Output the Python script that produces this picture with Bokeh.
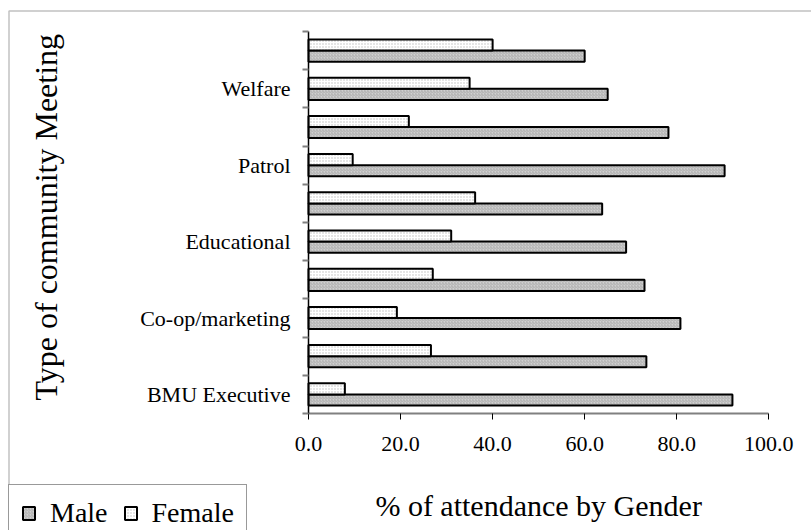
import numpy as np
from bokeh.plotting import figure
from bokeh.models import (FixedTicker, PrintfTickFormatter, Label, Legend,
                          BoxAnnotation, ColumnDataSource, Range1d)
from bokeh.embed import file_html
from bokeh.resources import INLINE

# ---- data (bottom to top) ----
categories = ["BMU Executive", "", "Co-op/marketing", "", "Educational", "",
              "Patrol", "", "Welfare", ""]
male = [92.1, 73.4, 80.8, 73.0, 69.0, 63.8, 90.4, 78.2, 65.0, 60.0]
female = [7.9, 26.6, 19.2, 27.0, 31.0, 36.2, 9.6, 21.8, 35.0, 40.0]
x_ticks = [0, 20, 40, 60, 80, 100]

FONT = "Liberation Serif"
BAR_H = 0.29
W, H = 811, 530
# plot area placement in pixels
X0, X1 = 308, 768.3      # x = 0 and x = 100
Y0, Y1 = 413, 31         # y = 0 and y = 10
PX_X = (X1 - X0) / 100.0
PX_Y = (Y0 - Y1) / len(categories)

pos = np.arange(len(categories)) + 0.5
src = ColumnDataSource(dict(male_y=pos - BAR_H / 2, female_y=pos + BAR_H / 2,
                            male=male, female=female))

x_range = Range1d(-X0 / PX_X, (W - X0) / PX_X)
y_range = Range1d(-(H - Y0) / PX_Y, Y0 / PX_Y)

p = figure(width=W, height=H, min_border=0,
           x_range=x_range, y_range=y_range,
           output_backend="svg", toolbar_location=None)
p.background_fill_color = "white"
p.border_fill_color = "white"
p.outline_line_color = None
p.xgrid.visible = False
p.ygrid.visible = False

r_m = p.hbar(y="male_y", left=0, right="male", height=BAR_H, source=src,
             fill_color="#d0d0d0", hatch_pattern="right_diagonal_line",
             hatch_color="#9a9a9a", hatch_scale=3, hatch_weight=0.6,
             line_color="black", line_width=2)
r_f = p.hbar(y="female_y", left=0, right="female", height=BAR_H, source=src,
             fill_color="white", hatch_pattern="dot",
             hatch_color="#bdbdbd", hatch_scale=3, hatch_weight=1,
             line_color="black", line_width=2)

# x axis
xa = p.xaxis[0]
xa.fixed_location = 0
xa.bounds = (0, 100)
xa.ticker = FixedTicker(ticks=x_ticks)
xa.formatter = PrintfTickFormatter(format="%.1f")
xa.major_label_text_font = FONT
xa.major_label_text_font_size = "22px"
xa.major_label_text_color = "black"
xa.axis_line_color = "#808080"
xa.axis_line_width = 2
xa.major_tick_line_color = "black"
xa.major_tick_in = 0
xa.major_tick_out = 6
xa.minor_tick_line_color = None
xa.major_label_standoff = 17

# y axis
ya = p.yaxis[0]
ya.fixed_location = 0
ya.bounds = (0, len(categories))
label_pos = [float(v) for v in pos[::2]]
ya.ticker = FixedTicker(ticks=label_pos,
                        minor_ticks=list(range(len(categories) + 1)))
ya.major_label_overrides = {float(v): c for v, c in zip(pos, categories) if c}
ya.major_label_text_font = FONT
ya.major_label_text_font_size = "22px"
ya.major_label_text_color = "black"
ya.major_tick_line_color = None
ya.major_tick_in = 0
ya.major_tick_out = 0
ya.minor_tick_line_color = "#808080"
ya.minor_tick_line_width = 2
ya.minor_tick_in = 0
ya.minor_tick_out = 6
ya.axis_line_color = "black"
ya.axis_line_width = 1.5
ya.major_label_standoff = 12

# axis titles
p.add_layout(Label(x=(45 - X0) / PX_X, y=(Y0 - 400) / PX_Y,
                   text="Type of community Meeting",
                   angle=np.pi / 2, text_align="left",
                   text_baseline="alphabetic",
                   text_font=FONT, text_font_size="32px", text_color="black"))
p.add_layout(Label(x=50, y=(Y0 - 505) / PX_Y,
                   text="% of attendance by Gender",
                   text_align="center", text_baseline="alphabetic",
                   text_font=FONT, text_font_size="30px", text_color="black"))

# outer chart border
p.add_layout(BoxAnnotation(left=(8.5 - X0) / PX_X, right=300,
                           top=(Y0 - 10.5) / PX_Y, bottom=-20,
                           fill_color=None, fill_alpha=0,
                           line_color="#333333", line_width=1.5))

legend = Legend(items=[("Male", [r_m]), ("Female", [r_f])],
                orientation="horizontal", location=(8, -12),
                label_text_font=FONT, label_text_font_size="28px",
                label_text_color="black", glyph_width=15, glyph_height=16,
                label_standoff=14, spacing=15, padding=12, margin=0,
                border_line_color="#333333", border_line_width=1.5,
                background_fill_color="white", background_fill_alpha=1)
p.add_layout(legend, "center")

open("out.html", "w").write(file_html(p, INLINE))
